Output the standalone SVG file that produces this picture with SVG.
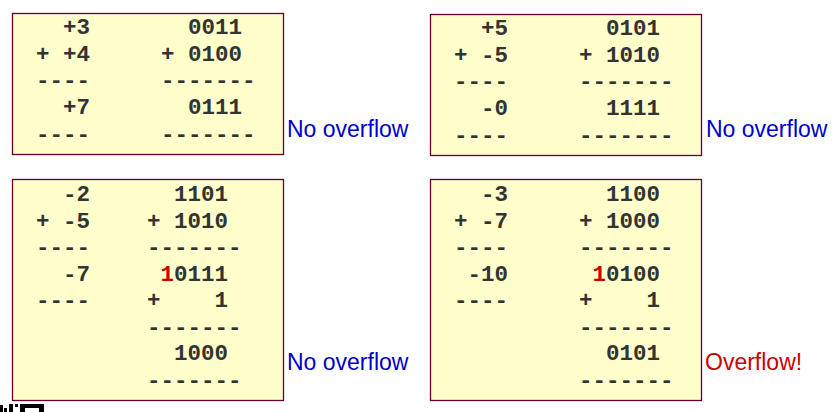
<svg xmlns="http://www.w3.org/2000/svg" width="836" height="412" viewBox="0 0 836 412">
<style>
.box{fill:#ffffcc;stroke:#660033;stroke-width:1.3}
.m{font-family:"Liberation Mono","Courier New",monospace;font-weight:bold;font-size:22.5px;fill:#333333;white-space:pre}
.red{fill:#cc0000}
.lbl{font-family:"Liberation Sans",Arial,sans-serif;font-size:23px}
.ok{fill:#0000cc}
.bad{fill:#cc0000}
</style>
<rect width="836" height="412" fill="#ffffff"/>
<g id="box1">
<rect class="box" x="12.5" y="13.5" width="271" height="141"/>
<text class="m" xml:space="preserve" x="36" y="34">  +3</text>
<text class="m" xml:space="preserve" x="36" y="61">+ +4</text>
<text class="m" xml:space="preserve" x="36" y="87">----</text>
<text class="m" xml:space="preserve" x="36" y="114">  +7</text>
<text class="m" xml:space="preserve" x="36" y="141">----</text>
<text class="m" xml:space="preserve" x="161" y="34">  0011</text>
<text class="m" xml:space="preserve" x="161" y="61">+ 0100</text>
<text class="m" xml:space="preserve" x="161" y="87">-------</text>
<text class="m" xml:space="preserve" x="161" y="114">  0111</text>
<text class="m" xml:space="preserve" x="161" y="141">-------</text>
<text class="lbl ok" x="287" y="137">No overflow</text>
</g>
<g id="box2">
<rect class="box" x="430.5" y="14.5" width="271" height="141"/>
<text class="m" xml:space="preserve" x="454" y="35">  +5</text>
<text class="m" xml:space="preserve" x="454" y="62">+ -5</text>
<text class="m" xml:space="preserve" x="454" y="88">----</text>
<text class="m" xml:space="preserve" x="454" y="115">  -0</text>
<text class="m" xml:space="preserve" x="454" y="142">----</text>
<text class="m" xml:space="preserve" x="579" y="35">  0101</text>
<text class="m" xml:space="preserve" x="579" y="62">+ 1010</text>
<text class="m" xml:space="preserve" x="579" y="88">-------</text>
<text class="m" xml:space="preserve" x="579" y="115">  1111</text>
<text class="m" xml:space="preserve" x="579" y="142">-------</text>
<text class="lbl ok" x="706" y="137">No overflow</text>
</g>
<g id="box3">
<rect class="box" x="12.5" y="179.5" width="271" height="221"/>
<text class="m" xml:space="preserve" x="36" y="201">  -2</text>
<text class="m" xml:space="preserve" x="36" y="228">+ -5</text>
<text class="m" xml:space="preserve" x="36" y="254">----</text>
<text class="m" xml:space="preserve" x="36" y="281">  -7</text>
<text class="m" xml:space="preserve" x="36" y="307">----</text>
<text class="m" xml:space="preserve" x="147" y="201">  1101</text>
<text class="m" xml:space="preserve" x="147" y="228">+ 1010</text>
<text class="m" xml:space="preserve" x="147" y="254">-------</text>
<text class="m" xml:space="preserve" x="147" y="281"> <tspan class="red">1</tspan>0111</text>
<text class="m" xml:space="preserve" x="147" y="307">+    1</text>
<text class="m" xml:space="preserve" x="147" y="334">-------</text>
<text class="m" xml:space="preserve" x="147" y="360">  1000</text>
<text class="m" xml:space="preserve" x="147" y="387">-------</text>
<text class="lbl ok" x="287" y="370">No overflow</text>
</g>
<g id="box4">
<rect class="box" x="430.5" y="179.5" width="271" height="221"/>
<text class="m" xml:space="preserve" x="454" y="201">  -3</text>
<text class="m" xml:space="preserve" x="454" y="228">+ -7</text>
<text class="m" xml:space="preserve" x="454" y="254">----</text>
<text class="m" xml:space="preserve" x="454" y="281"> -10</text>
<text class="m" xml:space="preserve" x="454" y="307">----</text>
<text class="m" xml:space="preserve" x="579" y="201">  1100</text>
<text class="m" xml:space="preserve" x="579" y="228">+ 1000</text>
<text class="m" xml:space="preserve" x="579" y="254">-------</text>
<text class="m" xml:space="preserve" x="579" y="281"> <tspan class="red">1</tspan>0100</text>
<text class="m" xml:space="preserve" x="579" y="307">+    1</text>
<text class="m" xml:space="preserve" x="579" y="334">-------</text>
<text class="m" xml:space="preserve" x="579" y="360">  0101</text>
<text class="m" xml:space="preserve" x="579" y="387">-------</text>
<text class="lbl bad" x="705" y="370">Overflow!</text>
</g>
<g id="fragment" fill="#000000">
<rect x="0" y="405" width="3" height="7"/>
<rect x="4" y="408" width="3" height="4"/>
<rect x="9" y="404" width="4" height="8"/>
<rect x="15" y="404" width="3" height="3"/>
<rect x="20" y="404" width="24" height="8"/>
<rect x="25" y="408" width="14" height="4" fill="#ffffff"/>
</g>
</svg>
